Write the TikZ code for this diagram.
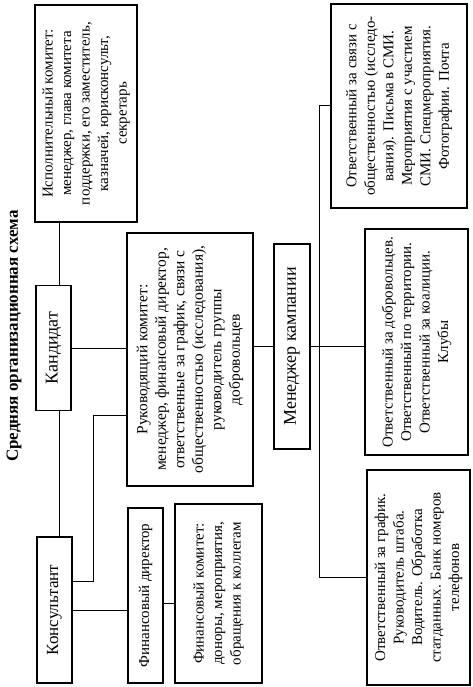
\documentclass[tikz,border=0pt]{standalone}
\usepackage{fontspec}
\setmainfont{Liberation Serif}
\usetikzlibrary{positioning,calc}

\begin{document}
\begin{tikzpicture}[
            x=1pt, y=-1pt,
            box/.style={
                    rectangle,
                    draw=black,
                    line width=1.4pt,
                    rotate=90,
                    inner sep=2pt,
                    align=center,
                    font=\fontsize{15}{18.5}\selectfont
                },
            unit/.style={
                    box,
                    line width=1.8pt,
                    font=\fontsize{18}{20}\selectfont
                },
            link/.style={line width=1pt}
        ]
        \useasboundingbox (0,0) rectangle (473,687);
        \node[rotate=90, font=\bfseries\fontsize{17}{20}\selectfont] (title) at (14,336) {Средняя организационная схема};

        \node[box, minimum width=217pt, minimum height=102pt] (isp) at (86,113.5) {Исполнительный комитет:\\менеджер, глава комитета\\поддержки, его заместитель,\\казначей, юрисконсульт,\\секретарь};
        \node[unit, minimum width=125pt, minimum height=35pt] (kand) at (53.5,348) {Кандидат};
        \node[unit, minimum width=146pt, minimum height=35pt, font=\fontsize{17}{20}\selectfont] (kons) at (54.5,610) {Консультант};
        \node[box, minimum width=253pt, minimum height=126pt, font=\fontsize{15.5}{18.5}\selectfont] (ruk) at (190,359.5) {Руководящий комитет:\\менеджер, финансовый директор,\\ответственные за график, связи с\\общественностью (исследования),\\руководитель группы\\добровольцев};
        \node[unit, minimum width=175pt, minimum height=35pt, font=\fontsize{15}{18}\selectfont] (findir) at (145.5,595.5) {Финансовый директор};
        \node[box, minimum width=179pt, minimum height=87pt] (finkom) at (218.5,593.5) {Финансовый комитет:\\доноры, мероприятия,\\обращения к коллегам};
        \node[unit, minimum width=205pt, minimum height=36pt] (men) at (292,346.5) {Менеджер кампании};
        \node[box, minimum width=204pt, minimum height=136pt] (pr) at (399,106) {Ответственный за связи с\\общественностью (исследо-\\вания). Письма в СМИ.\\Мероприятия с участием\\СМИ. Спецмероприятия.\\Фотографии. Почта};
        \node[box, minimum width=226pt, minimum height=103pt] (vol) at (416.5,342) {Ответственный за добровольцев.\\Ответственный по территории.\\Ответственный за коалиции.\\Клубы};
        \node[box, minimum width=215pt, minimum height=103pt] (graf) at (418.5,577.5) {Ответственный за график.\\Руководитель штаба.\\Водитель. Обработка\\статданных. Банк номеров\\телефонов};

        \coordinate (spine) at (59,0);
        \coordinate (kbend) at (93,581);
        \coordinate (bus) at (319,0);

        \draw[link] (spine |- isp.west) -- (spine |- kand.east);
        \draw[link] (spine |- kand.west) -- (spine |- kons.east);
        \draw[link] (kand.south) -- (kand.south -| ruk.north);
        \draw[link] (kons.south |- kbend) -- (kbend) |- (ruk.north |- 0,415);
        \draw[link] (kons.south) -- (kons.south -| findir.north);
        \draw[link] (findir.south |- 0,603) -- (finkom.north |- 0,603);
        \draw[link] (men.north) -- (men.north -| ruk.south);
        \draw[link] (bus |- pr.north) -- (bus |- graf.north);
        \draw[link] (bus |- pr.north) -- (pr.north);
        \draw[link] (men.south) -- (men.south -| vol.north);
        \draw[link] (bus |- graf.north) -- (graf.north);
    \end{tikzpicture}
\end{document}
